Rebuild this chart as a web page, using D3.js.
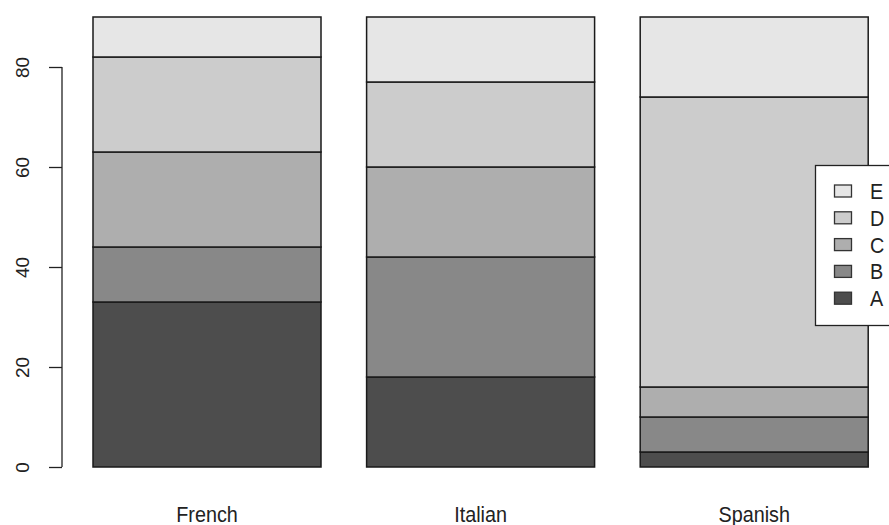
<!DOCTYPE html>
<html><head><meta charset="utf-8">
<script src="https://cdn.jsdelivr.net/npm/d3@7"></script>
<style>html,body{margin:0;padding:0;background:#fff}svg{display:block}</style>
</head><body><svg id="c" width="889" height="525"></svg>
<script>
const categories = ["French", "Italian", "Spanish"];
const seriesNames = ["A", "B", "C", "D", "E"];
const A = [33, 18, 3];
const B = [11, 24, 7];
const C = [19, 18, 6];
const D = [19, 17, 58];
const E = [8, 13, 16];
const yTicks = [0, 20, 40, 60, 80];
const colors = ["#4d4d4d", "#888888", "#aeaeae", "#cccccc", "#e6e6e6"];

const series = [A, B, C, D, E];
const rows = categories.map((c, i) => {
  const r = {cat: c};
  seriesNames.forEach((s, j) => r[s] = series[j][i]);
  return r;
});
const stacked = d3.stack().keys(seriesNames)(rows);

const svg = d3.select("#c");
const font = "Arial, 'Liberation Sans', sans-serif";
const y = d3.scaleLinear().domain([0, 80]).range([467, 67]);
const x = d3.scaleLinear().domain([0, 3.8]).range([47.4, 47.4 + 3.8 * 228]);
const barStart = i => 0.2 + 1.2 * i;

stacked.forEach((layer, j) => {
  svg.append("g").selectAll("rect").data(layer).join("rect")
    .attr("x", (d, i) => x(barStart(i)))
    .attr("width", (d, i) => x(barStart(i) + 1) - x(barStart(i)))
    .attr("y", d => y(d[1]))
    .attr("height", d => y(d[0]) - y(d[1]))
    .attr("fill", colors[j])
    .attr("stroke", "#1a1a1a")
    .attr("stroke-width", 1.5);
});

// y axis
const axisG = svg.append("g").attr("transform", "translate(62,0)")
  .call(d3.axisLeft(y).tickValues(yTicks).tickSize(13).tickFormat(d3.format("d")));
axisG.select(".domain").attr("stroke", "#222").attr("stroke-width", 1.3)
  .attr("d", `M0,${y(0)}V${y(80)}`);
axisG.selectAll(".tick line").attr("stroke", "#222").attr("stroke-width", 1.3);
axisG.selectAll(".tick text")
  .attr("font-family", font).attr("font-size", 19).attr("fill", "#222")
  .attr("x", 0).attr("dy", 0)
  .attr("text-anchor", "middle")
  .attr("transform", "translate(-40,0) rotate(-90)")
  .attr("dominant-baseline", "central");

// category labels
svg.append("g").selectAll("text").data(categories).join("text")
  .attr("transform", (d, i) => `translate(${x(barStart(i) + 0.5)},522) scale(0.9,1)`)
  .attr("text-anchor", "middle")
  .attr("font-family", font).attr("font-size", 22).attr("fill", "#222")
  .text(d => d);

// legend
const lg = svg.append("g");
lg.append("rect").attr("x", 815.5).attr("y", 165.5).attr("width", 100).attr("height", 160)
  .attr("fill", "#fff").attr("stroke", "#222").attr("stroke-width", 1.3);
const legendOrder = seriesNames.slice().reverse();
legendOrder.forEach((s, k) => {
  const cy = 191 + k * 26.8;
  const ci = seriesNames.indexOf(s);
  lg.append("rect").attr("x", 834.5).attr("y", cy - 6).attr("width", 17).attr("height", 12)
    .attr("fill", colors[ci]).attr("stroke", "#333").attr("stroke-width", 1.3);
  lg.append("text").attr("transform", `translate(870,${cy + 8}) scale(0.9,1)`)
    .attr("font-family", font).attr("font-size", 22).attr("fill", "#222").text(s);
});
</script></body></html>
